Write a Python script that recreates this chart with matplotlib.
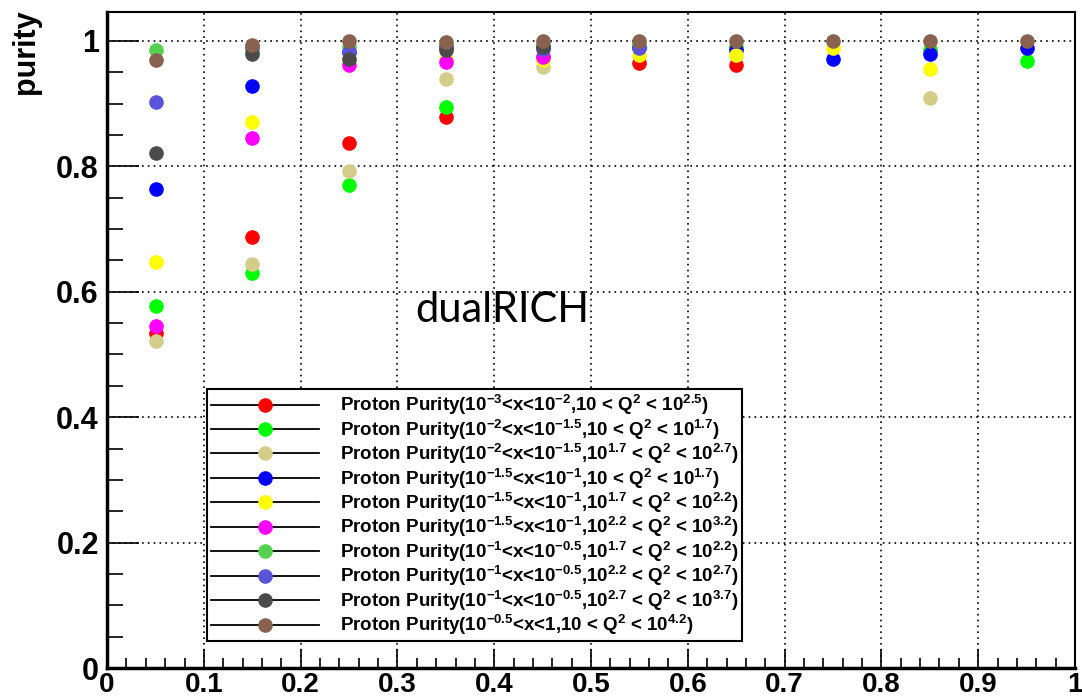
import numpy as np
import matplotlib
matplotlib.use("Agg")
import matplotlib.pyplot as plt
from matplotlib.lines import Line2D
from matplotlib.ticker import MultipleLocator

plt.rcParams['font.family'] = ['Liberation Sans', 'DejaVu Sans']
plt.rcParams['mathtext.fontset'] = 'custom'
plt.rcParams['mathtext.rm'] = 'Liberation Sans:bold'
plt.rcParams['mathtext.it'] = 'Liberation Sans:bold'
plt.rcParams['mathtext.bf'] = 'Liberation Sans:bold'

nan = np.nan
x_bins = [0.05, 0.15, 0.25, 0.35, 0.45, 0.55, 0.65, 0.75, 0.85, 0.95]

# purity per bin (nan = no point visible)
red = [0.534, 0.687, 0.837, 0.879, 0.975, 0.965, 0.961, nan, nan, nan]
green = [0.578, 0.630, 0.770, 0.894, 0.975, 0.990, 0.991, nan, 0.986, 0.968]
khaki = [0.522, 0.645, 0.792, 0.939, 0.958, nan, nan, nan, 0.909, nan]
blue = [0.764, 0.928, 0.983, 0.990, 0.990, 0.990, 0.985, 0.972, 0.979, 0.989]
yellow = [0.647, 0.870, 0.970, 0.970, 0.970, 0.978, 0.978, 0.989, 0.956, nan]
magenta = [0.545, 0.846, 0.962, 0.967, 0.974, nan, nan, nan, nan, nan]
medgreen = [0.985, 0.986, 0.990, 0.993, 0.995, 0.995, nan, nan, nan, nan]
slateblue = [0.903, 0.990, 0.983, 0.990, 0.987, 0.988, nan, nan, nan, nan]
darkgray = [0.822, 0.979, 0.971, 0.985, 0.990, nan, nan, nan, nan, nan]
brown = [0.970, 0.994, 1.000, 0.998, 1.000, 1.000, 1.000, 1.000, 1.000, 1.000]

series = [red, green, khaki, blue, yellow, magenta, medgreen, slateblue, darkgray, brown]
colors = ['#ff0000', '#00ff00', '#d4cd8a', '#0000ff', '#ffff00', '#ff00ff',
          '#55d14f', '#5a54d9', '#4b4b4b', '#88624f']
labels = [
    r'Proton Purity(10$^{-3}$<x<10$^{-2}$,10 < Q$^{2}$ < 10$^{2.5}$)',
    r'Proton Purity(10$^{-2}$<x<10$^{-1.5}$,10 < Q$^{2}$ < 10$^{1.7}$)',
    r'Proton Purity(10$^{-2}$<x<10$^{-1.5}$,10$^{1.7}$ < Q$^{2}$ < 10$^{2.7}$)',
    r'Proton Purity(10$^{-1.5}$<x<10$^{-1}$,10 < Q$^{2}$ < 10$^{1.7}$)',
    r'Proton Purity(10$^{-1.5}$<x<10$^{-1}$,10$^{1.7}$ < Q$^{2}$ < 10$^{2.2}$)',
    r'Proton Purity(10$^{-1.5}$<x<10$^{-1}$,10$^{2.2}$ < Q$^{2}$ < 10$^{3.2}$)',
    r'Proton Purity(10$^{-1}$<x<10$^{-0.5}$,10$^{1.7}$ < Q$^{2}$ < 10$^{2.2}$)',
    r'Proton Purity(10$^{-1}$<x<10$^{-0.5}$,10$^{2.2}$ < Q$^{2}$ < 10$^{2.7}$)',
    r'Proton Purity(10$^{-1}$<x<10$^{-0.5}$,10$^{2.7}$ < Q$^{2}$ < 10$^{3.7}$)',
    r'Proton Purity(10$^{-0.5}$<x<1,10 < Q$^{2}$ < 10$^{4.2}$)',
]

fig = plt.figure(figsize=(10.82, 7.0), dpi=100)
ax = fig.add_axes([0.099, 0.0457, 0.8945, 0.937])

for vals, c in zip(series, colors):
    ax.plot(x_bins, vals, 'o', color=c, ms=9.5, mec=c, zorder=3)

ax.set_xlim(0, 1)
ax.set_ylim(0, 1.046)
ax.xaxis.set_minor_locator(MultipleLocator(0.02))
ax.yaxis.set_minor_locator(MultipleLocator(0.05))
ax.set_xticks(np.arange(0, 1.01, 0.1))
ax.set_xticklabels(['0', '0.1', '0.2', '0.3', '0.4', '0.5', '0.6', '0.7', '0.8', '0.9', '1'])
ax.set_yticks(np.arange(0, 1.01, 0.2))
ax.set_yticklabels(['0', '0.2', '0.4', '0.6', '0.8', '1'])
ax.tick_params(axis='x', which='major', direction='in', length=14, width=1.2,
               labelsize=20, pad=3)
ax.tick_params(axis='x', which='minor', direction='in', length=7, width=1.2)
ax.tick_params(axis='y', which='major', direction='in', length=23, width=1.2,
               labelsize=22, pad=6)
ax.tick_params(axis='y', which='minor', direction='in', length=11.5, width=1.2)
for lab in ax.get_xticklabels() + ax.get_yticklabels():
    lab.set_fontweight('bold')

ax.grid(True, which='major', color='black', linestyle=(0, (1, 2.5)), linewidth=1.2)
ax.spines['left'].set_linewidth(2.5)
ax.spines['bottom'].set_linewidth(2.5)
ax.spines['top'].set_linewidth(1.5)
ax.spines['right'].set_linewidth(1.5)

fig.text(0.024, 0.986, 'purity', rotation=90, ha='center', va='top',
         fontsize=22, fontweight='bold')

ax.text(0.318, 0.552, 'dualRICH', fontfamily='Lato', fontsize=30, va='baseline')

handles = [Line2D([], [], color='black', lw=1.3, marker='o', ms=9.5,
                  mfc=c, mec=c) for c in colors]
leg = ax.legend(handles, labels, loc='upper left', bbox_to_anchor=(0.103, 0.425),
                borderaxespad=0, fancybox=False, framealpha=1, edgecolor='black',
                prop={'family': 'Liberation Sans', 'weight': 'bold', 'size': 13.5},
                handlelength=5.8, handletextpad=1.1, labelspacing=0.02,
                borderpad=0.2, numpoints=1)
leg.get_frame().set_linewidth(1.5)
leg.set_zorder(5)

fig.savefig('out.png', dpi=100)
